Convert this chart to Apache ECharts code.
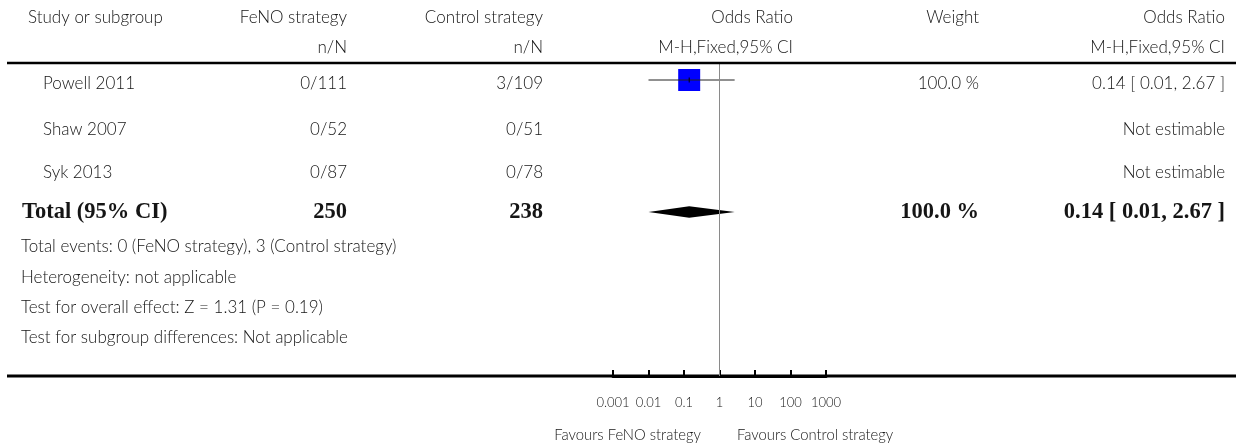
<!DOCTYPE html>
<html>
<head>
<meta charset="utf-8">
<script src="https://cdn.jsdelivr.net/npm/echarts@6/dist/echarts.min.js"></script>
<style>
html,body{margin:0;padding:0;background:#fff;}
#chart{width:1236px;height:446px;}
</style>
</head>
<body>
<div id="chart"></div>
<script>
// ---------------- DATA ----------------
const headerTop = ['Study or subgroup', 'FeNO strategy', 'Control strategy', 'Odds Ratio', 'Weight', 'Odds Ratio'];
const headerSub = ['', 'n/N', 'n/N', 'M-H,Fixed,95% CI', '', 'M-H,Fixed,95% CI'];
const studies = ['Powell 2011', 'Shaw 2007', 'Syk 2013'];
const fenoEvents = ['0/111', '0/52', '0/87'];
const controlEvents = ['3/109', '0/51', '0/78'];
const weights = ['100.0 %', '', ''];
const orEstimate = [0.14, null, null];
const orLower = [0.01, null, null];
const orUpper = [2.67, null, null];
const orText = ['0.14 [ 0.01, 2.67 ]', 'Not estimable', 'Not estimable'];
const totalLabel = 'Total (95% CI)';
const totalFeno = '250';
const totalControl = '238';
const totalWeight = '100.0 %';
const totalOR = [0.14, 0.01, 2.67];
const totalORText = '0.14 [ 0.01, 2.67 ]';
const footnotes = [
  'Total events: 0 (FeNO strategy), 3 (Control strategy)',
  'Heterogeneity: not applicable',
  'Test for overall effect: Z = 1.31 (P = 0.19)',
  'Test for subgroup differences: Not applicable'
];
const tickLabels = ['0.001', '0.01', '0.1', '1', '10', '100', '1000'];
const favoursLeft = 'Favours FeNO strategy';
const favoursRight = 'Favours Control strategy';

// ---------------- LAYOUT (pixels) ----------------
const W = 1236, H = 446;
const colX = { studyHead: 28, study: 43, total: 22, note: 21, feno: 347, control: 543, orHead: 793, weight: 979, orText: 1225 };
const headY = [18, 48];
const rowY = [84, 130, 173];
const markRowY = [80, 126, 169];
const totalY = 212;
const noteY = [247, 278, 308, 338];
const favoursY = 435;
const ruleTop = 63, ruleBottom = 376;
const squareSize = 22;
const diamondHalfH = 5.7;
const regFont = '300 17px Lato';
const boldFont = 'bold 22.5px "Liberation Serif"';
const favFont = '300 14.8px Lato';
const textColor = '#151515';

// ---------------- TEXT ITEMS ----------------
const items = [];
function addText(x, y, text, align, font) {
  if (text === '' || text == null) return;
  items.push({ x, y, text, align, font: font || regFont });
}
const headCols = [colX.studyHead, colX.feno, colX.control, colX.orHead, colX.weight, colX.orText];
const headAlign = ['left', 'right', 'right', 'right', 'right', 'right'];
headerTop.forEach((t, i) => addText(headCols[i], headY[0], t, headAlign[i]));
headerSub.forEach((t, i) => addText(headCols[i], headY[1], t, headAlign[i]));
studies.forEach((s, i) => {
  addText(colX.study, rowY[i], s, 'left');
  addText(colX.feno, rowY[i], fenoEvents[i], 'right');
  addText(colX.control, rowY[i], controlEvents[i], 'right');
  addText(colX.weight, rowY[i], weights[i], 'right');
  addText(colX.orText, rowY[i], orText[i], 'right');
});
addText(colX.total, totalY, totalLabel, 'left', boldFont);
addText(colX.feno, totalY, totalFeno, 'right', boldFont);
addText(colX.control, totalY, totalControl, 'right', boldFont);
addText(colX.weight, totalY, totalWeight, 'right', boldFont);
addText(colX.orText, totalY, totalORText, 'right', boldFont);
footnotes.forEach((t, i) => addText(colX.note, noteY[i], t, 'left'));
addText(701, favoursY, favoursLeft, 'right', favFont);
addText(737, favoursY, favoursRight, 'left', favFont);

// ---------------- FOREST DATA ----------------
const studyMarks = [];
orEstimate.forEach((v, i) => {
  if (v != null) studyMarks.push([v, orLower[i], orUpper[i], markRowY[i]]);
});
const totalMarks = [[totalOR[0], totalOR[1], totalOR[2], totalY]];

const chart = echarts.init(document.getElementById('chart'), null, { renderer: 'canvas' });
chart.setOption({
  animation: false,
  backgroundColor: '#fff',
  grid: [
    { left: 0, top: 0, width: W, height: H },
    { left: 613, top: 0, width: 213, height: ruleBottom }
  ],
  xAxis: [
    { gridIndex: 0, type: 'value', min: 0, max: W, show: false },
    {
      gridIndex: 1, type: 'log', logBase: 10, min: 0.001, max: 1000, splitNumber: 6,
      axisLine: { show: true, onZero: false, lineStyle: { color: '#000', width: 3 } },
      axisTick: { show: true, inside: true, length: 6, lineStyle: { color: '#000', width: 2 } },
      minorTick: { show: false },
      splitLine: { show: false },
      axisLabel: {
        margin: 20, fontSize: 13, fontWeight: 300, fontFamily: 'Lato', color: textColor,
        formatter: function (v) {
          const k = Math.round(Math.log10(v)) + 3;
          return tickLabels[k] !== undefined ? tickLabels[k] : '';
        }
      }
    }
  ],
  yAxis: [
    { gridIndex: 0, type: 'value', min: 0, max: H, inverse: true, show: false },
    { gridIndex: 1, type: 'value', min: 0, max: ruleBottom, inverse: true, show: false }
  ],
  graphic: [
    { type: 'line', shape: { x1: 7, y1: ruleTop, x2: W, y2: ruleTop }, style: { stroke: '#000', lineWidth: 2.5 }, z: 10 },
    { type: 'line', shape: { x1: 7, y1: ruleBottom, x2: W, y2: ruleBottom }, style: { stroke: '#000', lineWidth: 3 }, z: 1 }
  ],
  series: [
    {
      type: 'custom', xAxisIndex: 0, yAxisIndex: 0,
      data: items.map(it => [it.x, it.y]),
      renderItem: function (params, api) {
        const it = items[params.dataIndex];
        const p = api.coord([api.value(0), api.value(1)]);
        return {
          type: 'text', x: p[0], y: p[1],
          style: { text: it.text, align: it.align, verticalAlign: 'middle', font: it.font, fill: textColor }
        };
      }
    },
    {
      type: 'custom', xAxisIndex: 1, yAxisIndex: 1,
      data: studyMarks,
      renderItem: function (params, api) {
        const c = api.coord([api.value(0), api.value(3)]);
        const lo = api.coord([api.value(1), api.value(3)]);
        const hi = api.coord([api.value(2), api.value(3)]);
        return {
          type: 'group', children: [
            { type: 'rect', shape: { x: c[0] - squareSize / 2, y: c[1] - squareSize / 2, width: squareSize, height: squareSize }, style: { fill: '#0000ff' } },
            { type: 'line', shape: { x1: lo[0], y1: lo[1], x2: hi[0], y2: hi[1] }, style: { stroke: '#222', lineWidth: 1 } },
            { type: 'line', shape: { x1: c[0], y1: c[1] - 2.5, x2: c[0], y2: c[1] + 2.5 }, style: { stroke: '#000', lineWidth: 1 } }
          ]
        };
      },
      markLine: {
        silent: true, symbol: 'none', label: { show: false },
        lineStyle: { color: '#8a8a8a', width: 1, type: 'solid' },
        data: [[{ coord: [1, ruleTop] }, { coord: [1, ruleBottom] }]]
      }
    },
    {
      type: 'custom', xAxisIndex: 1, yAxisIndex: 1,
      data: totalMarks,
      renderItem: function (params, api) {
        const c = api.coord([api.value(0), api.value(3)]);
        const lo = api.coord([api.value(1), api.value(3)]);
        const hi = api.coord([api.value(2), api.value(3)]);
        return {
          type: 'polygon',
          shape: { points: [[lo[0], lo[1]], [c[0], c[1] - diamondHalfH], [hi[0], hi[1]], [c[0], c[1] + diamondHalfH]] },
          style: { fill: '#000' }
        };
      }
    }
  ]
});
</script>
</body>
</html>
